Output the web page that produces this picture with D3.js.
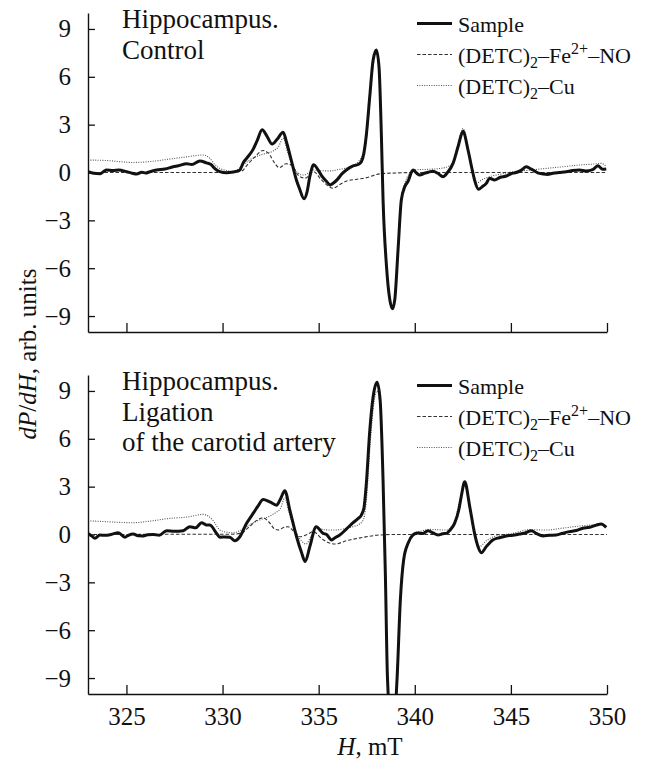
<!DOCTYPE html>
<html><head><meta charset="utf-8">
<script src="https://cdn.jsdelivr.net/npm/d3@7/dist/d3.min.js"></script>
<style>
body{margin:0;background:#fff;}
svg text{font-family:"Liberation Serif","Times New Roman",serif;fill:#111;}
</style></head>
<body><svg id="chart" width="658" height="760"></svg>
<script>
// ---------- data (H in mT, dP/dH in arb. units) ----------
const xTicks = [325, 330, 335, 340, 345, 350];
const yTicks = [-9, -6, -3, 0, 3, 6, 9];
const seriesNames = ["Sample", "(DETC)2–Fe2+–NO", "(DETC)2–Cu"];
const panelTitles = [["Hippocampus.", "Control"], ["Hippocampus.", "Ligation", "of the carotid artery"]];

const controlSample = [[323.0,0.05],[323.3,-0.05],[323.62,-0.08],[323.8,0.05],[323.97,0.16],[324.3,0.12],[324.6,0.15],[325.0,0.05],[325.3,-0.05],[325.53,-0.1],[325.8,0.02],[326.0,-0.03],[326.22,0.05],[326.57,0.16],[327.0,0.22],[327.43,0.36],[327.7,0.42],[328.13,0.55],[328.4,0.5],[328.82,0.72],[329.17,0.6],[329.4,0.5],[329.6,0.25],[329.86,0.05],[330.2,-0.02],[330.55,0.03],[330.9,0.16],[331.07,0.6],[331.25,0.89],[331.59,1.45],[331.8,2.0],[332.06,2.68],[332.3,2.3],[332.58,1.78],[332.85,2.1],[333.15,2.52],[333.35,1.8],[333.59,0.7],[333.85,-0.5],[334.0,-1.0],[334.24,-1.65],[334.4,-1.2],[334.55,-0.2],[334.74,0.48],[334.95,0.2],[335.15,-0.2],[335.4,-0.55],[335.6,-0.78],[335.75,-0.68],[336.0,-0.4],[336.2,-0.1],[336.44,0.16],[336.79,0.41],[337.05,0.5],[337.22,0.68],[337.35,1.2],[337.48,2.35],[337.66,4.8],[337.83,7.03],[338.0,7.68],[338.14,6.6],[338.26,2.45],[338.35,-1.72],[338.53,-5.9],[338.7,-7.97],[338.84,-8.55],[338.96,-7.97],[339.13,-4.84],[339.3,-1.72],[339.48,-0.9],[339.65,-0.55],[339.91,0.16],[340.1,-0.05],[340.26,-0.16],[340.5,-0.05],[340.7,0.02],[340.95,0.08],[341.2,-0.05],[341.47,-0.26],[341.7,0.0],[341.99,0.57],[342.25,1.61],[342.51,2.58],[342.77,1.41],[343.0,0.1],[343.11,-0.47],[343.32,-1.05],[343.5,-0.9],[343.72,-0.68],[343.89,-0.36],[344.15,-0.47],[344.45,-0.3],[344.76,-0.22],[345.0,-0.08],[345.28,0.0],[345.55,0.15],[345.8,0.36],[346.0,0.25],[346.15,0.16],[346.4,-0.02],[346.67,-0.09],[346.9,-0.12],[347.18,-0.05],[347.5,0.0],[347.88,0.05],[348.2,0.12],[348.57,0.16],[348.9,0.1],[349.26,0.18],[349.52,0.43],[349.78,0.2],[349.96,0.22]];

const controlFeNO = [[323.0,0.0],[325.0,0.0],[327.0,0.0],[329.0,0.0],[330.5,0.02],[331.0,0.1],[331.3,0.5],[331.7,1.0],[332.1,1.38],[332.4,1.2],[332.7,0.6],[332.95,0.3],[333.3,0.55],[333.6,0.45],[334.0,-0.25],[334.3,-0.35],[334.75,0.05],[335.1,-0.4],[335.5,-0.85],[335.75,-0.99],[336.1,-0.75],[336.5,-0.52],[337.0,-0.42],[337.4,-0.35],[338.2,-0.08],[339.0,-0.03],[340.0,0.0],[345.0,0.0],[350.0,0.0]];

const controlCu = [[323.0,0.78],[324.0,0.75],[325.3,0.63],[326.5,0.72],[327.1,0.82],[328.13,0.98],[329.0,1.1],[329.34,0.89],[329.6,0.5],[329.86,0.26],[330.3,0.1],[330.55,0.05],[331.0,0.4],[331.4,0.78],[332.1,1.15],[332.63,1.35],[332.9,1.6],[333.15,2.14],[333.4,1.2],[333.67,0.36],[333.95,-0.05],[334.19,-0.16],[334.45,-0.05],[334.71,0.16],[335.0,0.12],[335.58,0.1],[336.1,0.2],[336.5,0.3],[336.96,0.57],[337.2,0.9],[337.4,1.41],[337.6,3.5],[337.83,6.6],[338.0,7.45],[338.14,6.4],[338.28,2.2],[338.38,-2.0],[338.55,-6.0],[338.72,-7.9],[338.85,-8.4],[338.98,-7.7],[339.15,-4.5],[339.32,-1.5],[339.5,-0.6],[339.7,-0.1],[339.9,0.16],[340.7,0.2],[341.3,0.25],[341.9,0.47],[342.25,1.8],[342.51,2.76],[342.77,1.5],[343.0,0.0],[343.2,-0.68],[343.5,-0.45],[343.89,-0.26],[344.5,-0.1],[345.1,0.05],[346.0,0.15],[346.84,0.26],[347.7,0.36],[348.57,0.47],[349.2,0.52],[349.7,0.57],[349.96,0.36]];

const ligationSample = [[323.0,0.07],[323.2,-0.1],[323.36,-0.24],[323.62,-0.03],[323.9,-0.05],[324.2,0.0],[324.58,0.11],[324.92,-0.17],[325.1,-0.05],[325.36,0.03],[325.6,-0.08],[325.88,-0.09],[326.1,-0.02],[326.4,0.0],[326.7,-0.05],[327.09,0.24],[327.5,0.2],[327.95,0.24],[328.3,0.49],[328.6,0.42],[328.91,0.74],[329.15,0.6],[329.34,0.59],[329.69,0.07],[329.86,-0.17],[330.1,-0.15],[330.38,-0.17],[330.64,-0.39],[330.9,-0.14],[331.25,0.7],[331.59,1.32],[331.85,1.8],[332.11,2.2],[332.46,2.05],[332.81,1.84],[333.0,2.2],[333.24,2.74],[333.5,1.53],[333.85,-0.14],[334.1,-1.1],[334.3,-1.7],[334.54,-0.76],[334.87,0.49],[335.23,0.07],[335.41,0.0],[335.67,-0.34],[335.85,-0.2],[336.1,-0.03],[336.45,0.35],[336.79,0.74],[337.05,1.0],[337.22,1.22],[337.36,1.7],[337.48,3.2],[337.66,6.53],[337.83,8.61],[338.04,9.55],[338.2,8.4],[338.35,3.4],[338.47,-2.5],[338.58,-9.0],[338.84,-13.0],[339.08,-9.0],[339.25,-4.1],[339.42,-1.6],[339.65,-0.55],[339.91,-0.03],[340.15,0.1],[340.43,0.07],[340.69,0.24],[340.95,0.1],[341.21,-0.03],[341.45,0.05],[341.64,0.07],[341.85,0.3],[342.07,0.7],[342.3,1.6],[342.42,2.4],[342.6,3.3],[342.86,1.74],[343.11,0.07],[343.3,-0.8],[343.46,-1.14],[343.72,-0.76],[344.06,-0.34],[344.4,-0.2],[344.76,-0.09],[345.1,-0.05],[345.45,0.03],[345.75,0.1],[346.06,0.24],[346.35,0.05],[346.67,-0.09],[347.0,-0.05],[347.36,-0.03],[347.7,0.08],[348.05,0.18],[348.4,0.25],[348.74,0.39],[349.1,0.45],[349.44,0.59],[349.7,0.66],[349.96,0.45]];

const ligationFeNO = [[323.0,0.0],[325.0,0.0],[327.0,0.02],[329.0,0.02],[330.5,0.02],[331.0,0.1],[331.4,0.5],[331.8,0.9],[332.11,1.05],[332.4,0.8],[332.7,0.35],[332.89,0.28],[333.2,0.45],[333.41,0.49],[333.7,0.2],[334.02,-0.14],[334.4,0.0],[334.71,0.18],[335.2,-0.3],[335.6,-0.55],[335.84,-0.6],[336.44,-0.39],[337.31,-0.18],[338.18,-0.03],[339.0,0.0],[345.0,0.0],[350.0,0.0]];

const ligationCu = [[323.0,0.86],[324.0,0.8],[325.3,0.74],[326.3,0.85],[327.1,0.99],[328.2,1.1],[329.0,1.26],[329.5,0.89],[329.86,0.28],[330.2,0.15],[330.55,0.11],[331.0,0.3],[331.25,0.49],[331.8,0.85],[332.29,1.07],[332.8,1.4],[333.0,1.6],[333.24,2.3],[333.45,1.4],[333.85,0.07],[334.1,-0.4],[334.35,-0.6],[334.6,-0.1],[334.89,0.4],[335.3,0.3],[335.75,0.28],[336.3,0.35],[336.8,0.5],[337.13,0.66],[337.35,1.0],[337.5,2.4],[337.7,6.0],[337.88,8.3],[338.04,9.0],[338.2,8.0],[338.35,3.0],[338.48,-3.0],[338.6,-9.5],[338.84,-12.5],[339.08,-9.5],[339.25,-4.3],[339.45,-1.5],[339.7,-0.4],[339.91,0.07],[340.3,0.2],[340.78,0.32],[341.64,0.28],[342.07,0.8],[342.35,2.2],[342.6,3.1],[342.86,1.6],[343.1,0.0],[343.37,-0.76],[343.72,-0.39],[344.2,-0.1],[345.1,0.07],[345.97,0.3],[346.84,0.28],[347.7,0.4],[348.57,0.53],[349.2,0.6],[349.7,0.66],[349.96,0.5]];

// ---------- layout ----------
const svg = d3.select("#chart");
const left = 88, right = 607;
const panels = [
  {top: 13, bottom: 332, data: [controlSample, controlFeNO, controlCu], title: panelTitles[0], labels: false},
  {top: 375, bottom: 694, data: [ligationSample, ligationFeNO, ligationCu], title: panelTitles[1], labels: true}
];
const x = d3.scaleLinear().domain([323, 350]).range([left, right]);
const styles = [
  {w: 3, dash: null, color: "#111"},
  {w: 1.1, dash: "3.5,2", color: "#333"},
  {w: 1.1, dash: "1,1.4", color: "#555"}
];

panels.forEach((p, pi) => {
  const y = d3.scaleLinear().domain([-10, 10]).range([p.bottom, p.top]);
  const g = svg.append("g");
  const clipId = "clip" + pi;
  svg.append("clipPath").attr("id", clipId).append("rect")
    .attr("x", left).attr("y", p.top).attr("width", right - left + 2).attr("height", p.bottom - p.top);

  const line = d3.line().x(d => x(d[0])).y(d => y(d[1])).curve(d3.curveMonotoneX);
  [2, 1, 0].forEach(si => {
    g.append("path").datum(p.data[si])
      .attr("clip-path", `url(#${clipId})`)
      .attr("d", line).attr("fill", "none")
      .attr("stroke", styles[si].color).attr("stroke-width", styles[si].w)
      .attr("stroke-linejoin", "round")
      .attr("stroke-dasharray", styles[si].dash);
  });

  const yAxis = d3.axisLeft(y).tickValues(yTicks).tickSizeInner(-7).tickSizeOuter(0)
    .tickPadding(17).tickFormat(d => d < 0 ? "\u2212" + Math.abs(d) : d);
  const ya = g.append("g").attr("transform", `translate(${left},0)`).call(yAxis);
  ya.select(".domain").attr("stroke", "#111").attr("stroke-width", 1.4);
  ya.selectAll(".tick line").attr("stroke", "#111").attr("stroke-width", 1.3);
  ya.selectAll(".tick text").style("font-size", "25px").attr("fill", "#111")
    .style("font-family", '"Liberation Serif", serif');

  const xAxis = d3.axisBottom(x).tickValues(xTicks).tickSizeInner(-9).tickSizeOuter(0)
    .tickPadding(13).tickFormat(p.labels ? d3.format("d") : () => "");
  const xa = g.append("g").attr("transform", `translate(0,${p.bottom})`).call(xAxis);
  xa.select(".domain").attr("stroke", "#111").attr("stroke-width", 1.4);
  xa.selectAll(".tick line").attr("stroke", "#111").attr("stroke-width", 1.3);
  xa.selectAll(".tick text").style("font-size", "25px").attr("fill", "#111")
    .style("font-family", '"Liberation Serif", serif');

  p.title.forEach((t, i) => {
    g.append("text").attr("x", 122).attr("y", p.top + 15 + i * 30.5)
      .style("font-size", "27px").text(t);
  });

  const legTop = p.top + 10.5;
  seriesNames.forEach((name, si) => {
    const ly = legTop + si * 31;
    g.append("line").attr("x1", 417).attr("x2", 452).attr("y1", ly).attr("y2", ly)
      .attr("stroke", styles[si].color).attr("stroke-width", si === 0 ? 3 : 1.1)
      .attr("stroke-dasharray", styles[si].dash);
    const t = g.append("text").attr("x", 458).attr("y", ly + 8).style("font-size", "22px");
    if (si === 0) { t.text(name); }
    else {
      t.append("tspan").text("(DETC)");
      t.append("tspan").attr("dy", 5).style("font-size", "16px").text("2");
      t.append("tspan").attr("dy", -5).text("–" + (si === 1 ? "Fe" : "Cu"));
      if (si === 1) {
        t.append("tspan").attr("dy", -9).style("font-size", "16px").text("2+");
        t.append("tspan").attr("dy", 9).text("–NO");
      }
    }
  });
});

const yt = svg.append("text").attr("transform", "translate(36,354) rotate(-90)")
  .attr("text-anchor", "middle").style("font-size", "25px");
yt.append("tspan").style("font-style", "italic").text("dP");
yt.append("tspan").text("/");
yt.append("tspan").style("font-style", "italic").text("dH");
yt.append("tspan").text(", arb. units");

const xt = svg.append("text").attr("x", 370).attr("y", 755)
  .attr("text-anchor", "middle").style("font-size", "25px");
xt.append("tspan").style("font-style", "italic").text("H");
xt.append("tspan").text(", mT");
</script></body></html>
